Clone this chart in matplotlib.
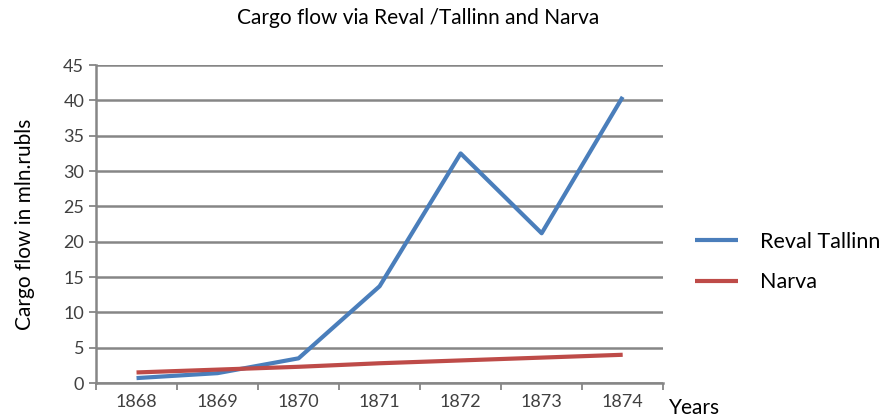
import numpy as np
import matplotlib.pyplot as plt

years = ["1868", "1869", "1870", "1871", "1872", "1873", "1874"]
reval = [0.7, 1.4, 3.5, 13.7, 32.5, 21.2, 40.5]
narva = [1.5, 1.9, 2.3, 2.8, 3.2, 3.6, 4.0]

plt.rcParams['font.family'] = ['Lato', 'DejaVu Sans']

fig = plt.figure(figsize=(8.89, 4.2), dpi=100)
ax = fig.add_axes([0.108, 0.088, 0.638, 0.757])

x = np.arange(len(years))
ax.plot(x, reval, color="#4a7ebb", lw=3, label="Reval Tallinn", solid_capstyle="butt")
ax.plot(x, narva, color="#be4b48", lw=3, label="Narva", solid_capstyle="butt")

ax.set_xlim(-0.5, len(years) - 0.5)
ax.set_ylim(0, 45)
ax.set_yticks(np.arange(0, 46, 5))
ax.yaxis.grid(True, color="#868686", lw=1.8)
ax.set_axisbelow(True)

ax.set_xticks(x)
ax.set_xticklabels(years, fontsize=13, color="#404040")
ax.set_xticks(np.arange(-0.5, len(years), 1), minor=True)
ax.tick_params(axis="x", which="major", length=0, pad=8)
ax.tick_params(axis="x", which="minor", length=5, width=1.3, color="#868686")
ax.tick_params(axis="y", length=5, width=1.3, color="#868686", labelsize=13, labelcolor="#404040")

for s in ["top", "right"]:
    ax.spines[s].set_visible(False)
for s in ["left", "bottom"]:
    ax.spines[s].set_color("#868686")
    ax.spines[s].set_linewidth(1.8)

ax.set_ylabel("Cargo flow in mln.rubls", fontsize=15, labelpad=20)
fig.text(0.47, 0.957, "Cargo flow via Reval /Tallinn and Narva", ha="center", va="center", fontsize=15)
fig.text(0.752, 0.028, "Years", ha="left", va="center", fontsize=15)

ax.legend(loc="upper left", bbox_to_anchor=(1.056, 0.475), frameon=False, fontsize=15.5,
          borderpad=0, borderaxespad=0,
          handlelength=2.0, handletextpad=1.0, labelspacing=0.95)

fig.savefig("out.png", dpi=100)
